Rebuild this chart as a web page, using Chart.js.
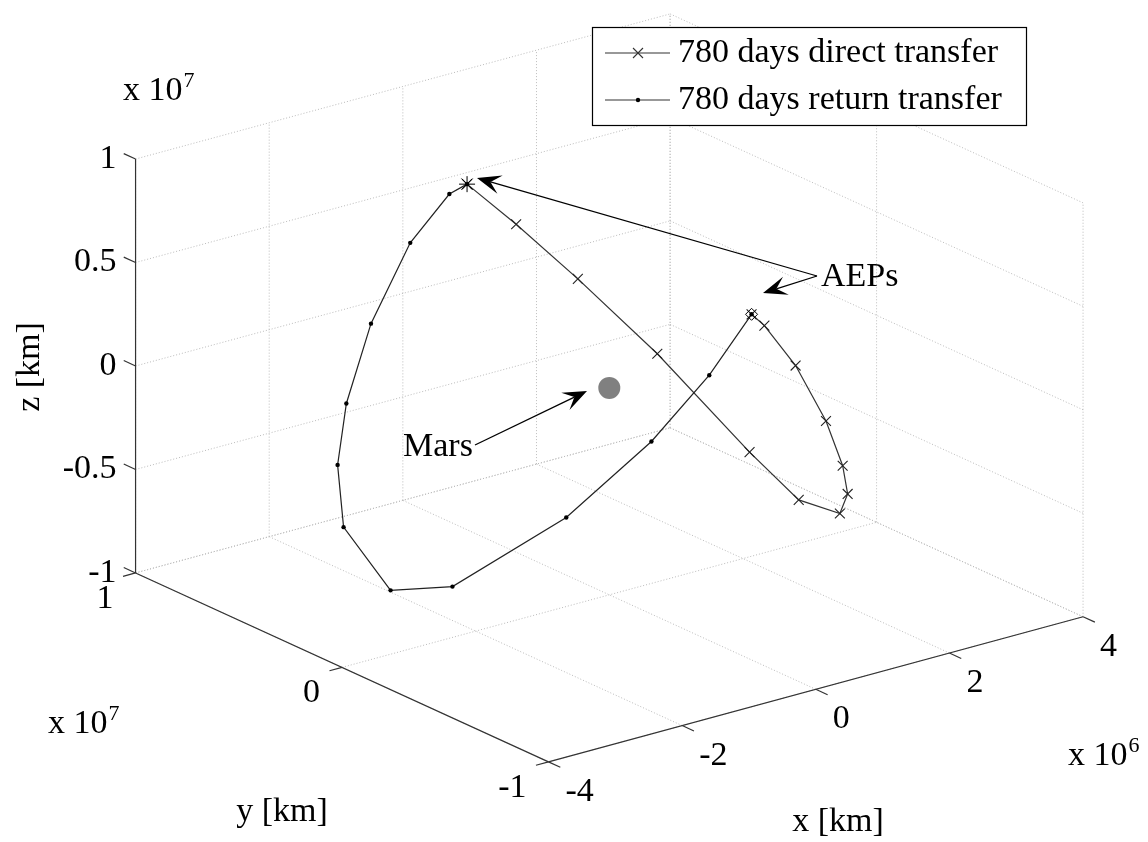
<!DOCTYPE html>
<html>
<head>
<meta charset="utf-8">
<title>780 days transfers around Mars</title>
<script src="https://cdn.jsdelivr.net/npm/chart.js@4.4.1/dist/chart.umd.min.js"></script>
<style>
  html, body { margin: 0; padding: 0; background: #fff; }
  #wrap { width: 1148px; height: 842px; }
</style>
</head>
<body>
<div id="wrap"><canvas id="chart" width="1148" height="842"></canvas></div>
<script>
// trajectory samples in km (Mars-centred frame)
const directX = [0, 0.5e6, 1.0e6, 1.5e6, 2.0e6, 2.3e6, 2.4e6, 2.3e6, 2.0e6, 1.5e6, 0.9e6, 0.3e6, 0];
const directY = [0.689e7, 0.613e7, 0.476e7, 0.253e7, -0.032e7, -0.173e7, -0.340e7, -0.410e7, -0.483e7, -0.564e7, -0.611e7, -0.654e7, -0.689e7];
const directZ = [0.670e7, 0.467e7, 0.222e7, -0.082e7, -0.471e7, -0.664e7, -0.662e7, -0.527e7, -0.331e7, -0.034e7, 0.308e7, 0.573e7, 0.670e7];

const returnX = [0, -0.5e6, -1.1e6, -1.8e6, -2.4e6, -2.6e6, -2.5e6, -2.2e6, -1.8e6, -1.2e6, -0.6e6, -0.2e6, 0];
const returnY = [-0.689e7, -0.646e7, -0.560e7, -0.374e7, -0.017e7, 0.218e7, 0.478e7, 0.604e7, 0.691e7, 0.766e7, 0.770e7, 0.710e7, 0.689e7];
const returnZ = [0.670e7, 0.400e7, 0.093e7, -0.298e7, -0.742e7, -0.850e7, -0.672e7, -0.455e7, -0.233e7, 0.066e7, 0.402e7, 0.630e7, 0.670e7];

// artificial equilibrium points and Mars
const aepX = [0, 0];
const aepY = [0.689e7, -0.689e7];
const aepZ = [0.670e7, 0.670e7];
const marsPos = [0, 0, 0];

const xTicks = [-4e6, -2e6, 0, 2e6, 4e6];
const yTicks = [-1e7, 0, 1e7];
const zTicks = [-1e7, -0.5e7, 0, 0.5e7, 1e7];
const xTickLabels = ['-4', '-2', '0', '2', '4'];
const yTickLabels = ['-1', '0', '1'];
const zTickLabels = ['-1', '-0.5', '0', '0.5', '1'];

const seriesNames = ['780 days direct transfer', '780 days return transfer'];

// view of the axes box (orthographic): corner at (xmin, ymin, zmin) and the screen span of each axis
const view = {
  corner: [548, 771],
  xSpan: [545, -149],
  ySpan: [-421, -194],
  zSpan: [0, -425]
};
const xLim = [xTicks[0], xTicks[xTicks.length - 1]];
const yLim = [yTicks[0], yTicks[yTicks.length - 1]];
const zLim = [zTicks[0], zTicks[zTicks.length - 1]];

function project(x, y, z) {
  const tx = (x - xLim[0]) / (xLim[1] - xLim[0]);
  const ty = (y - yLim[0]) / (yLim[1] - yLim[0]);
  const tz = (z - zLim[0]) / (zLim[1] - zLim[0]);
  return {
    x: view.corner[0] + tx * view.xSpan[0] + ty * view.ySpan[0] + tz * view.zSpan[0],
    y: view.corner[1] + tx * view.xSpan[1] + ty * view.ySpan[1] + tz * view.zSpan[1]
  };
}

const toPoints = (xs, ys, zs) => xs.map((x, i) => project(x, ys[i], zs[i]));

const FONT = '"Liberation Serif", "Times New Roman", serif';
const font = size => size + 'px ' + FONT;

// annotation arrows, figure pixels
const arrows = [
  { from: [817, 276], to: [477, 178] },
  { from: [817, 276], to: [763, 293] },
  { from: [475, 445], to: [587, 391] }
];
const notes = [
  { text: 'AEPs', at: [821, 286] },
  { text: 'Mars', at: [403, 456] }
];

function pix(chart, p) {
  return [chart.scales.x.getPixelForValue(p.x), chart.scales.y.getPixelForValue(p.y)];
}

function seg(ctx, a, b) {
  ctx.beginPath();
  ctx.moveTo(a[0], a[1]);
  ctx.lineTo(b[0], b[1]);
  ctx.stroke();
}

function unit(a, b) {
  const dx = b[0] - a[0], dy = b[1] - a[1];
  const d = Math.hypot(dx, dy);
  return [dx / d, dy / d];
}

function expLabel(ctx, x, y, base, exp) {
  ctx.textAlign = 'left';
  ctx.textBaseline = 'alphabetic';
  ctx.font = font(34);
  ctx.fillText(base, x, y);
  const w = ctx.measureText(base).width;
  ctx.font = font(22);
  ctx.fillText(exp, x + w + 1, y - 13);
}

const box3d = {
  id: 'box3d',
  beforeDraw(chart) {
    const ctx = chart.ctx;
    ctx.save();
    ctx.fillStyle = '#fff';
    ctx.fillRect(0, 0, chart.width, chart.height);
    ctx.restore();
  },
  beforeDatasetsDraw(chart) {
    const ctx = chart.ctx;
    const P = (x, y, z) => pix(chart, project(x, y, z));
    ctx.save();

    // grid on the back planes
    ctx.strokeStyle = '#bcbcbc';
    ctx.lineWidth = 1;
    ctx.setLineDash([1, 2]);
    xTicks.forEach(x => {
      seg(ctx, P(x, yLim[0], zLim[0]), P(x, yLim[1], zLim[0]));
      seg(ctx, P(x, yLim[1], zLim[0]), P(x, yLim[1], zLim[1]));
    });
    yTicks.forEach(y => {
      seg(ctx, P(xLim[0], y, zLim[0]), P(xLim[1], y, zLim[0]));
      seg(ctx, P(xLim[1], y, zLim[0]), P(xLim[1], y, zLim[1]));
    });
    zTicks.forEach(z => {
      seg(ctx, P(xLim[0], yLim[1], z), P(xLim[1], yLim[1], z));
      seg(ctx, P(xLim[1], yLim[0], z), P(xLim[1], yLim[1], z));
    });
    ctx.setLineDash([]);

    // axis lines
    ctx.strokeStyle = '#333';
    ctx.lineWidth = 1.2;
    seg(ctx, P(xLim[0], yLim[1], zLim[0]), P(xLim[0], yLim[1], zLim[1]));
    seg(ctx, P(xLim[0], yLim[1], zLim[0]), P(xLim[0], yLim[0], zLim[0]));
    seg(ctx, P(xLim[0], yLim[0], zLim[0]), P(xLim[1], yLim[0], zLim[0]));

    // tick marks point along the neighbouring axes
    const tickLen = 13;
    const uy = unit(P(0, yLim[0], 0), P(0, yLim[1], 0));
    const ux = unit(P(xLim[0], 0, 0), P(xLim[1], 0, 0));
    ctx.fillStyle = '#000';

    ctx.font = font(34);
    ctx.textBaseline = 'middle';
    ctx.textAlign = 'right';
    zTicks.forEach((z, i) => {
      const a = P(xLim[0], yLim[1], z);
      seg(ctx, a, [a[0] + uy[0] * tickLen, a[1] + uy[1] * tickLen]);
      ctx.fillText(zTickLabels[i], a[0] - 19, a[1]);
    });
    yTicks.forEach((y, i) => {
      const a = P(xLim[0], y, zLim[0]);
      seg(ctx, a, [a[0] - ux[0] * tickLen, a[1] - ux[1] * tickLen]);
      ctx.fillText(yTickLabels[i], a[0] - 22, a[1] + 26);
    });
    ctx.textAlign = 'left';
    xTicks.forEach((x, i) => {
      const a = P(x, yLim[0], zLim[0]);
      seg(ctx, a, [a[0] - uy[0] * tickLen, a[1] - uy[1] * tickLen]);
      ctx.fillText(xTickLabels[i], a[0] + 17, a[1] + 30);
    });

    // axis titles and exponents
    ctx.textAlign = 'center';
    ctx.textBaseline = 'alphabetic';
    ctx.fillText('y [km]', 282, 821);
    ctx.fillText('x [km]', 838, 831);
    ctx.save();
    ctx.translate(30, 367);
    ctx.rotate(-Math.PI / 2);
    ctx.textBaseline = 'middle';
    ctx.fillText('z [km]', 0, 0);
    ctx.restore();

    expLabel(ctx, 123, 100, 'x 10', '7');
    expLabel(ctx, 48, 733, 'x 10', '7');
    expLabel(ctx, 1068, 765, 'x 10', '6');

    ctx.restore();
  },
  afterDatasetsDraw(chart) {
    const ctx = chart.ctx;
    ctx.save();

    // arrows with barbed heads
    ctx.strokeStyle = '#000';
    ctx.fillStyle = '#000';
    ctx.lineWidth = 1.3;
    arrows.forEach(({ from, to }) => {
      const u = unit(to, from);
      const p = [-u[1], u[0]];
      const len = 24, half = 9.5, notch = 14;
      seg(ctx, from, [to[0] + u[0] * notch, to[1] + u[1] * notch]);
      ctx.beginPath();
      ctx.moveTo(to[0], to[1]);
      ctx.lineTo(to[0] + u[0] * len + p[0] * half, to[1] + u[1] * len + p[1] * half);
      ctx.lineTo(to[0] + u[0] * notch, to[1] + u[1] * notch);
      ctx.lineTo(to[0] + u[0] * len - p[0] * half, to[1] + u[1] * len - p[1] * half);
      ctx.closePath();
      ctx.fill();
    });

    ctx.font = font(34);
    ctx.textAlign = 'left';
    ctx.textBaseline = 'alphabetic';
    notes.forEach(n => ctx.fillText(n.text, n.at[0], n.at[1]));

    // legend
    const lg = { left: 592, top: 27, right: 1026, bottom: 125 };
    ctx.fillStyle = '#fff';
    ctx.fillRect(lg.left, lg.top, lg.right - lg.left, lg.bottom - lg.top);
    ctx.strokeStyle = '#000';
    ctx.lineWidth = 1.2;
    ctx.strokeRect(lg.left + 0.5, lg.top + 0.5, lg.right - lg.left, lg.bottom - lg.top);

    const rows = [53, 100];
    ctx.font = font(34);
    ctx.textBaseline = 'middle';
    rows.forEach((ry, i) => {
      ctx.strokeStyle = '#333';
      ctx.lineWidth = 1.2;
      seg(ctx, [605, ry], [670, ry]);
      ctx.fillStyle = '#000';
      if (i === 0) {
        ctx.lineWidth = 1.1;
        seg(ctx, [633, ry - 5], [643, ry + 5]);
        seg(ctx, [633, ry + 5], [643, ry - 5]);
      } else {
        ctx.beginPath();
        ctx.arc(638, ry, 2.2, 0, Math.PI * 2);
        ctx.fill();
      }
      ctx.fillText(seriesNames[i], 678, ry);
    });

    ctx.restore();
  }
};

new Chart(document.getElementById('chart').getContext('2d'), {
  type: 'scatter',
  data: {
    datasets: [
      {
        label: 'AEP 1',
        data: [project(aepX[0], aepY[0], aepZ[0])],
        pointStyle: 'star',
        pointRadius: 8,
        pointBorderColor: '#000',
        pointBorderWidth: 1,
        order: 1
      },
      {
        label: 'AEP 2',
        data: [project(aepX[1], aepY[1], aepZ[1])],
        pointStyle: 'rectRot',
        pointRadius: 6,
        pointBorderColor: '#000',
        pointBackgroundColor: 'rgba(0,0,0,0)',
        pointBorderWidth: 1,
        order: 1
      },
      {
        label: seriesNames[0],
        data: toPoints(directX, directY, directZ),
        showLine: true,
        borderColor: '#333',
        borderWidth: 1.2,
        pointStyle: 'crossRot',
        pointRadius: 7,
        pointBorderColor: '#222',
        pointBorderWidth: 1.1,
        pointBackgroundColor: 'rgba(0,0,0,0)',
        order: 3
      },
      {
        label: seriesNames[1],
        data: toPoints(returnX, returnY, returnZ),
        showLine: true,
        borderColor: '#222',
        borderWidth: 1.2,
        pointStyle: 'circle',
        pointRadius: 2.2,
        pointBorderWidth: 0,
        pointBackgroundColor: '#000',
        order: 2
      },
      {
        label: 'Mars',
        data: [project(marsPos[0], marsPos[1], marsPos[2])],
        pointStyle: 'circle',
        pointRadius: 11,
        pointBorderWidth: 0,
        pointBackgroundColor: '#808080',
        order: 5
      }
    ]
  },
  options: {
    responsive: false,
    animation: false,
    devicePixelRatio: 1,
    events: [],
    layout: { padding: 0 },
    scales: {
      x: { type: 'linear', min: 0, max: 1148, display: false },
      y: { type: 'linear', min: 0, max: 842, reverse: true, display: false }
    },
    plugins: {
      legend: { display: false },
      tooltip: { enabled: false }
    }
  },
  plugins: [box3d]
});
</script>
</body>
</html>
